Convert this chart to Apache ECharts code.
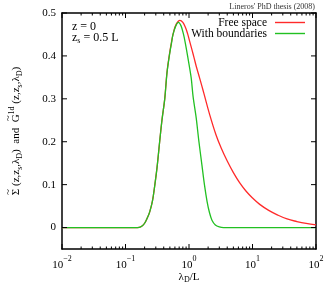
<!DOCTYPE html>
<html><head><meta charset="utf-8">
<script src="https://cdn.jsdelivr.net/npm/echarts@6/dist/echarts.min.js"></script>
<style>html,body{margin:0;padding:0;background:#fff}#c{width:334px;height:292px}</style>
</head><body><div id="c"></div>
<script>
const FONT = 'Liberation Serif';
const seriesNames = ['Free space', 'With boundaries'];
const freeX = [0.01, 0.05, 0.1, 0.14, 0.165, 0.18, 0.2, 0.22, 0.24, 0.266, 0.29, 0.315, 0.345, 0.375, 0.415, 0.45, 0.49, 0.53, 0.57, 0.63, 0.72, 0.8, 0.88, 0.95, 1.02, 1.12, 1.2, 1.3, 1.46, 1.6, 1.72, 2.1, 2.65, 3.2, 4.0, 5.0, 6.3, 8, 10, 13, 18, 25, 35, 50, 70, 100];
const freeY = [0, 0, 0, 0, 0.0005, 0.003, 0.01, 0.022, 0.036, 0.062, 0.1, 0.142, 0.2, 0.25, 0.3, 0.362, 0.402, 0.432, 0.455, 0.474, 0.483, 0.478, 0.466, 0.452, 0.435, 0.413, 0.396, 0.376, 0.35, 0.329, 0.312, 0.265, 0.217, 0.186, 0.155, 0.128, 0.104, 0.084, 0.069, 0.054, 0.04, 0.029, 0.02, 0.014, 0.0095, 0.006];
const boundX = [0.01, 0.05, 0.1, 0.14, 0.165, 0.18, 0.2, 0.22, 0.24, 0.266, 0.29, 0.315, 0.345, 0.375, 0.415, 0.45, 0.49, 0.53, 0.56, 0.62, 0.68, 0.75, 0.82, 0.875, 0.95, 1.08, 1.16, 1.3, 1.42, 1.6, 1.75, 1.93, 2.1, 2.3, 2.6, 3.0, 3.5, 10, 100];
const boundY = [0, 0, 0, 0, 0.0005, 0.003, 0.01, 0.022, 0.036, 0.062, 0.1, 0.142, 0.2, 0.25, 0.3, 0.36, 0.4, 0.43, 0.45, 0.47, 0.478, 0.47, 0.45, 0.43, 0.4, 0.35, 0.305, 0.255, 0.205, 0.145, 0.1, 0.06, 0.035, 0.017, 0.006, 0.0015, 0, 0, 0];
const xMajorTicks = [0.01, 0.1, 1, 10, 100];
const xTickLabels = ['10^-2', '10^-1', '10^0', '10^1', '10^2'];
const yTicks = [0, 0.1, 0.2, 0.3, 0.4, 0.5];
const yTickLabels = ['0', '0.1', '0.2', '0.3', '0.4', '0.5'];
const xMinorTicks = [];
for (let d = -2; d < 2; d++) for (let m = 2; m <= 9; m++) xMinorTicks.push(m * Math.pow(10, d));

const X_MIN = 0.01, X_MAX = 100, Y_MIN = -0.05, Y_MAX = 0.5;
const colors = ['#ff2a2a', '#22c022'];
const GRID = {left: 53, right: 18, top: 13, bottom: 43};
const chart = echarts.init(document.getElementById('c'), null, {renderer: 'canvas'});

function xLabel(v) {
  const i = xMajorTicks.findIndex(t => Math.abs(Math.log10(t) - Math.log10(v)) < 1e-6);
  if (i < 0) return '';
  const parts = xTickLabels[i].split('^');
  return '{b|' + parts[0] + '}{s|' + parts[1].replace('-', '\u2212') + '}';
}
function yLabel(v) {
  const i = yTicks.findIndex(t => Math.abs(t - v) < 1e-9);
  return i < 0 ? '' : yTickLabels[i];
}

// y-axis title tokens
const yNameTokens = [['t', '\u03A3'], ['n', ' (z,z'], ['sub', 's'], ['n', ',\u03BB'], ['sub', 'D'], ['n', ')  and  '],
  ['t', 'G'], ['sup', '1d'], ['n', ' (z,z'], ['sub', 's'], ['n', ',\u03BB'], ['sub', 'D'], ['n', ')']];
const tokenSize = {t: 11, n: 11, sub: 8, sup: 8};
const yNameText = yNameTokens.map(t => '{' + t[0] + '|' + t[1] + '}').join('');
const ctx = document.createElement('canvas').getContext('2d');
function tw(tok) { ctx.font = tokenSize[tok[0]] + 'px "' + FONT + '"'; return ctx.measureText(tok[1]).width; }
const widths = yNameTokens.map(tw);
const totalW = widths.reduce((a, b) => a + b, 0);
const Y_NAME_GAP = 38;
const yNameCx = GRID.left - Y_NAME_GAP;
const plotCy = GRID.top + (292 - GRID.top - GRID.bottom) / 2;
function tildeY(idx) {
  let pre = 0; for (let i = 0; i < idx; i++) pre += widths[i];
  return plotCy + totalW / 2 - pre - widths[idx] / 2;
}

const baseX = {type: 'log', logBase: 10, min: X_MIN, max: X_MAX, splitLine: {show: false}, minorTick: {show: false}};
const baseY = {type: 'value', min: Y_MIN, max: Y_MAX, splitLine: {show: false}};

const tickData = [];
xMajorTicks.forEach(v => tickData.push([v, Y_MIN, 0]));
xMinorTicks.forEach(v => tickData.push([v, Y_MIN, 1]));
yTicks.forEach(v => tickData.push([X_MIN, v, 2]));

function renderTick(params, api) {
  const kind = api.value(2);
  const st = {stroke: '#000', lineWidth: 1};
  if (kind === 2) {
    const v = api.value(1);
    const a = api.coord([X_MIN, v]), b = api.coord([X_MAX, v]);
    return {type: 'group', children: [
      {type: 'line', shape: {x1: a[0], y1: a[1], x2: a[0] + 5, y2: a[1]}, style: st},
      {type: 'line', shape: {x1: b[0], y1: b[1], x2: b[0] - 5, y2: b[1]}, style: st}
    ]};
  }
  const v = api.value(0);
  const len = kind === 0 ? 5 : 2.5;
  const a = api.coord([v, Y_MIN]), b = api.coord([v, Y_MAX]);
  return {type: 'group', children: [
    {type: 'line', shape: {x1: a[0], y1: a[1], x2: a[0], y2: a[1] - len}, style: st},
    {type: 'line', shape: {x1: b[0], y1: b[1], x2: b[0], y2: b[1] + len}, style: st}
  ]};
}

const option = {
  animation: false,
  backgroundColor: '#fff',
  textStyle: {fontFamily: FONT},
  title: {
    text: "Lineros' PhD thesis (2008)", right: 19, top: 2.5, padding: 0,
    textStyle: {fontFamily: FONT, fontSize: 8, fontWeight: 'normal', color: '#333'}
  },
  legend: [
    {data: [seriesNames[0]], orient: 'vertical', right: 29, top: 16.5, padding: 0, align: 'right', itemWidth: 30, itemHeight: 1.4, icon: 'rect',
     textStyle: {fontFamily: FONT, fontSize: 11.5, color: '#000', padding: [0, 3, 0, 0]}},
    {data: [seriesNames[1]], orient: 'vertical', right: 29, top: 27.5, padding: 0, align: 'right', itemWidth: 30, itemHeight: 1.4, icon: 'rect',
     textStyle: {fontFamily: FONT, fontSize: 11.5, color: '#000', padding: [0, 3, 0, 0]}}
  ],
  grid: Object.assign({containLabel: false}, GRID),
  xAxis: [
    Object.assign({}, baseX, {
      position: 'bottom',
      name: '{n|\u03BB}{sub|D}{n|/L}', nameLocation: 'middle', nameGap: 21, nameMoveOverlap: false,
      nameTextStyle: {fontFamily: FONT, rich: {
        n: {fontFamily: FONT, fontSize: 11, color: '#000', lineHeight: 14},
        sub: {fontFamily: FONT, fontSize: 8, color: '#000', verticalAlign: 'bottom', lineHeight: 14}
      }},
      axisLine: {show: true, onZero: false, lineStyle: {color: '#000', width: 1.5}},
      axisTick: {show: false},
      axisLabel: {show: true, margin: 6, formatter: xLabel, rich: {
        b: {fontFamily: FONT, fontSize: 11, color: '#000', lineHeight: 16, verticalAlign: 'bottom'},
        s: {fontFamily: FONT, fontSize: 8, color: '#000', lineHeight: 16, verticalAlign: 'top'}
      }}
    }),
    Object.assign({}, baseX, {
      position: 'top',
      axisLine: {show: true, onZero: false, lineStyle: {color: '#000', width: 1.5}},
      axisTick: {show: false},
      axisLabel: {show: false}
    })
  ],
  yAxis: [
    Object.assign({}, baseY, {
      position: 'left',
      name: yNameText, nameLocation: 'middle', nameGap: Y_NAME_GAP, nameMoveOverlap: false,
      nameTextStyle: {fontFamily: FONT, rich: {
        n: {fontFamily: FONT, fontSize: 11, color: '#000', lineHeight: 16},
        t: {fontFamily: FONT, fontSize: 11, color: '#000', lineHeight: 16},
        sub: {fontFamily: FONT, fontSize: 8, color: '#000', verticalAlign: 'bottom', lineHeight: 16},
        sup: {fontFamily: FONT, fontSize: 8, color: '#000', verticalAlign: 'top', lineHeight: 16}
      }},
      axisLine: {show: true, onZero: false, lineStyle: {color: '#000', width: 1.5}},
      axisTick: {show: false},
      axisLabel: {show: true, margin: 6, customValues: yTicks, formatter: yLabel, fontFamily: FONT, fontSize: 11, color: '#000'}
    }),
    Object.assign({}, baseY, {
      position: 'right',
      axisLine: {show: true, onZero: false, lineStyle: {color: '#000', width: 1.5}},
      axisTick: {show: false},
      axisLabel: {show: false}
    })
  ],
  graphic: [
    {type: 'text', left: 72, top: 21, style: {text: 'z = 0', fontFamily: FONT, fontSize: 12, fill: '#000'}},
    {type: 'text', left: 72, top: 31.5, style: {
      text: '{n|z}{sub|s}{n| = 0.5 L}', fontFamily: FONT, fill: '#000',
      rich: {n: {fontFamily: FONT, fontSize: 12, lineHeight: 15}, sub: {fontFamily: FONT, fontSize: 8, lineHeight: 15, verticalAlign: 'bottom'}}
    }},
    {type: 'text', x: yNameCx - 7, y: tildeY(0), rotation: Math.PI / 2,
     style: {text: '~', fontFamily: FONT, fontSize: 11, fill: '#000', align: 'center', verticalAlign: 'middle'}},
    {type: 'text', x: yNameCx - 7, y: tildeY(6), rotation: Math.PI / 2,
     style: {text: '~', fontFamily: FONT, fontSize: 11, fill: '#000', align: 'center', verticalAlign: 'middle'}}
  ],
  series: [
    {name: seriesNames[0], type: 'line', xAxisIndex: 0, yAxisIndex: 0, showSymbol: false, symbol: 'none', smooth: 0.4,
     color: colors[0], lineStyle: {width: 1.3, color: colors[0]}, z: 3,
     data: freeX.map((x, i) => [x, freeY[i]])},
    {name: seriesNames[1], type: 'line', xAxisIndex: 0, yAxisIndex: 0, showSymbol: false, symbol: 'none', smooth: 0.3,
     color: colors[1], lineStyle: {width: 1.3, color: colors[1]}, z: 4,
     data: boundX.map((x, i) => [x, boundY[i]])},
    {name: 'ticks', type: 'custom', xAxisIndex: 0, yAxisIndex: 0, silent: true, clip: false, z: 6,
     encode: {x: 0, y: 1}, renderItem: renderTick, data: tickData}
  ]
};
chart.setOption(option);
</script>
</body></html>
